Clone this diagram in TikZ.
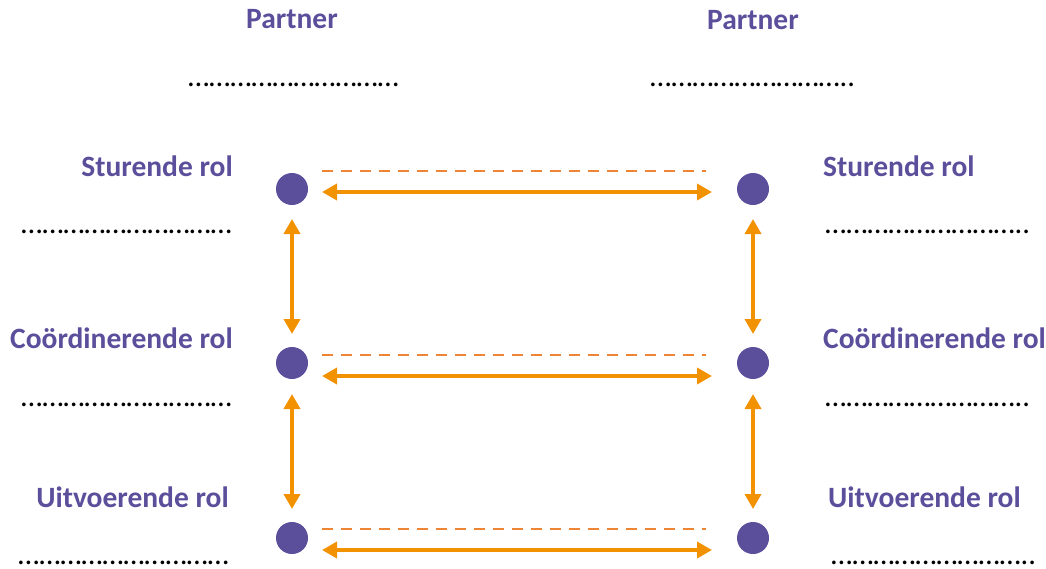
\documentclass[tikz,border=0pt]{standalone}
\usepackage{fontspec}
\setmainfont{Carlito}
\usetikzlibrary{arrows.meta}
\definecolor{rolpurple}{HTML}{5B4F9C}
\definecolor{linkorange}{HTML}{F39200}
\definecolor{dashorange}{HTML}{EE8535}
% dotted fill-in lines, built from single ellipsis characters
\newcommand\oneell{…}
\newcommand\fiveell{\oneell\oneell\oneell\oneell\oneell}
\newcommand\fillleft{\fiveell\fiveell}
\newcommand\fillright{\fiveell\oneell\oneell\oneell\oneell..}
\tikzset{
  role/.style={circle, fill=rolpurple, minimum size=32pt, inner sep=0pt},
  label/.style={inner sep=0pt, text=rolpurple, font=\fontsize{29.5}{35}\selectfont\bfseries},
  blank/.style={inner sep=0pt, text=black, font=\fontsize{30.5}{36}\selectfont},
  link/.style={draw=linkorange, line width=3.6pt,
    {Triangle[length=15pt,width=16pt]}-{Triangle[length=15pt,width=16pt]}},
  peer/.style={draw=dashorange, line width=2.6pt, dash pattern=on 11pt off 8pt}
}
\begin{document}
\begin{tikzpicture}[x=1pt, y=-1pt]
\useasboundingbox (0,0) rectangle (1046,568);

% role dots
\node[role] (l1) at (292,189) {};
\node[role] (l2) at (292,363) {};
\node[role] (l3) at (292,538) {};
\node[role] (r1) at (753,189) {};
\node[role] (r2) at (753,363) {};
\node[role] (r3) at (753,538) {};

% partner headings and blanks
\node[label, anchor=base] (pl) at (292,28) {Partner};
\node[label, anchor=base] (pr) at (753,29) {Partner};
\node[blank, anchor=base west] (bl) at (188,86) {\fillleft};
\node[blank, anchor=base west] (br) at (650,86) {\fillright};

% left role labels
\node[label, anchor=base east] (ls) at (233,176) {Sturende rol};
\node[blank, anchor=base east] (lsb) at (232,233) {\fillleft};
\node[label, anchor=base east] (lc) at (233,348) {Coördinerende rol};
\node[blank, anchor=base east] (lcb) at (232,406) {\fillleft};
\node[label, anchor=base east] (lu) at (229,507) {Uitvoerende rol};
\node[blank, anchor=base east] (lub) at (229,564) {\fillleft};

% right role labels
\node[label, anchor=base west] (rs) at (823,176) {Sturende rol};
\node[blank, anchor=base west] (rsb) at (825,233) {\fillright};
\node[label, anchor=base west] (rc) at (823,348) {Coördinerende rol};
\node[blank, anchor=base west] (rcb) at (825,406) {\fillright};
\node[label, anchor=base west] (ru) at (828,507) {Uitvoerende rol};
\node[blank, anchor=base west] (rub) at (831,564) {\fillright};

% horizontal links between partners
\foreach \i/\d/\a in {1/171/192, 2/355/376, 3/529/550} {
  \coordinate (hd\i a) at ([xshift=30pt] l\i.center |- 0,\d);
  \coordinate (hd\i b) at ([xshift=-47pt] r\i.center |- 0,\d);
  \coordinate (ha\i a) at ([xshift=30pt] l\i.center |- 0,\a);
  \coordinate (ha\i b) at ([xshift=-41pt] r\i.center |- 0,\a);
  \draw[peer] (hd\i a) -- (hd\i b);
  \draw[link] (ha\i a) -- (ha\i b);
}

% vertical links within each partner
\draw[link] ([yshift=-30pt] l1.center) -- ([yshift=29pt] l2.center);
\draw[link] ([yshift=-31pt] l2.center) -- ([yshift=29pt] l3.center);
\draw[link] ([yshift=-30pt] r1.center) -- ([yshift=29pt] r2.center);
\draw[link] ([yshift=-31pt] r2.center) -- ([yshift=29pt] r3.center);
\end{tikzpicture}
\end{document}
